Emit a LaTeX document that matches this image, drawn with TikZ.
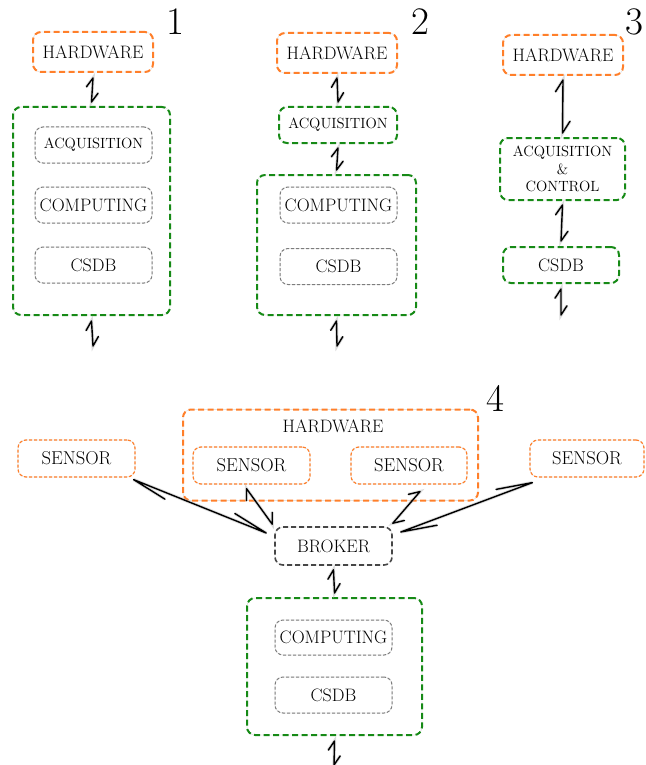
\documentclass[tikz,border=0pt]{standalone}
\usetikzlibrary{calc}

\definecolor{hworange}{RGB}{255,127,42}
\definecolor{grpgreen}{RGB}{22,138,22}
\definecolor{subgray}{RGB}{125,125,125}
\definecolor{brokergray}{RGB}{70,70,70}

\tikzset{
  box/.style={rounded corners=8pt, inner sep=0pt, align=center,
    font=\fontsize{18}{20}\selectfont,
    preaction={draw=black!10, solid, line width=0.7pt}},
  small/.style={font=\fontsize{14.8}{17.5}\selectfont},
  hwbox/.style={box, draw=hworange, line width=2pt, dash pattern=on 6pt off 3.5pt,
    minimum width=120pt, minimum height=40pt},
  sensorbox/.style={box, draw=hworange, line width=1.2pt, dash pattern=on 3pt off 2pt,
    minimum width=117pt, minimum height=37pt, font=\fontsize{18.6}{20}\selectfont},
  grpbox/.style={box, draw=grpgreen, line width=2pt, dash pattern=on 6pt off 3.5pt},
  subbox/.style={box, draw=subgray, line width=1pt, dash pattern=on 3pt off 2pt,
    minimum width=117pt, minimum height=36pt},
  brokerbox/.style={box, draw=brokergray, line width=1.6pt, dash pattern=on 5pt off 3pt,
    minimum width=117pt, minimum height=38pt},
  panelnum/.style={inner sep=0pt, font=\fontsize{39}{40}\selectfont},
  linkline/.style={line width=1.4pt, black, line join=round, line cap=round,
    preaction={draw=black!30, line width=3.2pt, opacity=0.45}},
}

% two-way connector with a single barb on each end (harpoon style)
% #1, #2: end points; #3: barb length; #4: barb angle
\newcommand{\barblink}[4]{%
  \draw[linkline] ($(#1)!#3!-#4:(#2)$) -- (#1) -- (#2) -- ($(#2)!#3!-#4:(#1)$);%
}

\begin{document}
\begin{tikzpicture}[x=1pt,y=-1pt]
\useasboundingbox (0,0) rectangle (645,765);

% ---------- variant 1 ----------
\node[panelnum] (n1) at (175,22) {1};
\node[hwbox] (hw1) at (93,52) {HARDWARE};
\node[grpbox, minimum width=157pt, minimum height=208pt] (g1) at (91.5,211) {};
\node[subbox, small] (acq1) at (93.5,145) {ACQUISITION};
\node[subbox] (comp1) at (93.5,205) {COMPUTING};
\node[subbox] (db1) at (93.5,265) {CSDB};
\coordinate (out1) at (93,346);
\coordinate (a1) at ([yshift=-5pt]hw1.south);
\coordinate (b1) at ([yshift=4pt]g1.north);
\coordinate (c1) at ([yshift=-5pt]g1.south);
\barblink{a1}{b1}{11pt}{33}
\barblink{c1}{out1}{11pt}{33}

% ---------- variant 2 ----------
\node[panelnum] (n2) at (420,22) {2};
\node[hwbox] (hw2) at (337,53) {HARDWARE};
\node[grpbox, small, minimum width=118pt, minimum height=36pt] (acq2) at (338,125) {ACQUISITION};
\node[grpbox, minimum width=159pt, minimum height=140pt] (g2) at (336.5,245) {};
\node[subbox] (comp2) at (338.5,205) {COMPUTING};
\node[subbox] (db2) at (338.5,266.5) {CSDB};
\coordinate (out2) at (337,346);
\coordinate (a2) at ([yshift=-4pt]hw2.south);
\coordinate (b2) at ([yshift=4pt]acq2.north);
\coordinate (c2) at ([yshift=-4pt]acq2.south);
\coordinate (d2) at ([yshift=4pt]g2.north);
\coordinate (e2) at ([yshift=-5pt]g2.south);
\barblink{a2}{b2}{11pt}{33}
\barblink{c2}{d2}{11pt}{33}
\barblink{e2}{out2}{11pt}{33}

% ---------- variant 3 ----------
\node[panelnum] (n3) at (634,22) {3};
\node[hwbox] (hw3) at (563,55) {HARDWARE};
\node[grpbox, small, minimum width=125pt, minimum height=62pt] (ac3) at (562.5,169)
  {ACQUISITION\\\&\\CONTROL};
\node[grpbox, minimum width=116pt, minimum height=36pt] (db3) at (561,265) {CSDB};
\coordinate (out3) at (561,315);
\coordinate (a3) at ([yshift=-4pt]hw3.south);
\coordinate (b3) at ([yshift=4pt]ac3.north);
\coordinate (c3) at ([yshift=-4pt]ac3.south);
\coordinate (d3) at ([yshift=5pt]db3.north);
\coordinate (e3) at ([yshift=-5pt]db3.south);
\barblink{a3}{b3}{14pt}{32}
\barblink{c3}{d3}{12pt}{33}
\barblink{e3}{out3}{11pt}{33}

% ---------- variant 4 ----------
\node[panelnum] (n4) at (495,398) {4};
\node[hwbox, minimum width=295pt, minimum height=91pt] (hw4) at (330.5,455) {};
\node[inner sep=0pt, font=\fontsize{18}{20}\selectfont] (hwl4) at (333,426) {HARDWARE};
\node[sensorbox] (sIL) at (251.5,465.5) {SENSOR};
\node[sensorbox, minimum width=116pt] (sIR) at (409,465.5) {SENSOR};
\node[sensorbox] (sL) at (76.5,458.5) {SENSOR};
\node[sensorbox, minimum width=114pt] (sR) at (587,458.5) {SENSOR};
\node[brokerbox] (br) at (333.5,546) {BROKER};
\node[grpbox, minimum width=175pt, minimum height=137pt] (g4) at (334.5,666.5) {};
\node[subbox, minimum height=35pt] (comp4) at (333.5,637.5) {COMPUTING};
\node[subbox] (db4) at (333.5,695) {CSDB};
\coordinate (out4) at (334,765);

\coordinate (sLa) at ([xshift=-2pt,yshift=-2pt]sL.south east);
\coordinate (sLb) at ([xshift=-8pt,yshift=13pt]br.west);
\coordinate (sILa) at ([xshift=-5pt,yshift=-4pt]sIL.south);
\coordinate (sILb) at ([xshift=-2pt,yshift=2pt]br.north west);
\coordinate (sIRa) at ([xshift=11pt,yshift=-7pt]sIR.south);
\coordinate (sIRb) at ([xshift=0pt,yshift=3pt]br.north east);
\coordinate (sRa) at ([xshift=3pt,yshift=-5pt]sR.south west);
\coordinate (sRb) at ([xshift=8pt,yshift=14pt]br.east);
\coordinate (bra) at ([yshift=-4pt]br.south);
\coordinate (g4a) at ([yshift=4pt]g4.north);
\coordinate (g4b) at ([yshift=-5pt]g4.south);

\barblink{sLa}{sLb}{37pt}{10}
\barblink{sILa}{sILb}{12pt}{36}
\barblink{sIRa}{sIRb}{12pt}{36}
\barblink{sRa}{sRb}{37pt}{10}
\barblink{bra}{g4a}{11pt}{33}
\barblink{g4b}{out4}{11pt}{33}
\end{tikzpicture}
\end{document}
